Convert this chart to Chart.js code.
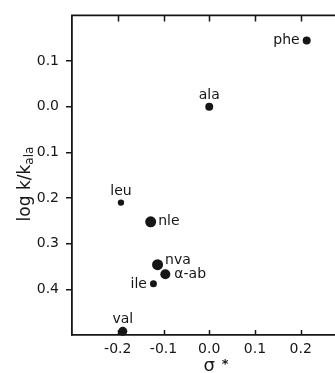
<!DOCTYPE html>
<html>
<head>
<meta charset="utf-8">
<script src="https://cdn.jsdelivr.net/npm/chart.js@4/dist/chart.umd.min.js"></script>
<style>
  html, body { margin: 0; padding: 0; background: #fff; overflow: hidden; }
  #wrap { width: 352px; height: 373px; }
</style>
</head>
<body>
<div id="wrap"><canvas id="c" width="352" height="373"></canvas></div>
<script>
// Amino acid residues: Taft sigma* vs log k/k_ala
const residues = ['phe', 'ala', 'leu', 'nle', 'nva', 'α-ab', 'ile', 'val'];
const sigmaStar = [0.213, 0.0, -0.193, -0.128, -0.113, -0.096, -0.122, -0.189];
const logRel = [0.145, 0.0, -0.210, -0.252, -0.346, -0.367, -0.388, -0.492];
const xTickValues = [-0.2, -0.1, 0.0, 0.1, 0.2, 0.3];
const yTickValues = [0.1, 0.0, -0.1, -0.2, -0.3, -0.4];

// marker radius per residue and where its name sits relative to the marker
const dotRadius = [4, 4, 3.2, 5.5, 5.5, 5, 3.5, 4.5];
const labelPlace = ['left', 'above', 'above', 'right', 'upright', 'rightFar', 'left', 'above'];

const INK = '#161616';
const FONT = '"DejaVu Sans", Verdana, sans-serif';

const points = sigmaStar.map((s, i) => ({ x: s, y: logRel[i] }));

const frame = {
  id: 'frame',
  afterDraw(chart) {
    const { ctx, chartArea: a, scales: { x, y } } = chart;
    ctx.save();
    ctx.strokeStyle = INK;
    ctx.lineWidth = 1.8;
    // top border
    ctx.beginPath();
    ctx.moveTo(a.left - 0.9, a.top);
    ctx.lineTo(a.right, a.top);
    ctx.stroke();
    // inward ticks on the top and bottom edges
    ctx.lineWidth = 1.5;
    xTickValues.forEach(v => {
      const px = Math.round(x.getPixelForValue(v)) + 0.5;
      ctx.beginPath();
      ctx.moveTo(px, a.top);
      ctx.lineTo(px, a.top + 6);
      ctx.moveTo(px, a.bottom);
      ctx.lineTo(px, a.bottom - 5);
      ctx.stroke();
    });

    // residue names next to the markers
    ctx.fillStyle = INK;
    ctx.font = '14px ' + FONT;
    residues.forEach((name, i) => {
      const px = x.getPixelForValue(sigmaStar[i]);
      const py = y.getPixelForValue(logRel[i]);
      const r = dotRadius[i];
      switch (labelPlace[i]) {
        case 'left':
          ctx.textAlign = 'right'; ctx.textBaseline = 'middle';
          ctx.fillText(name, px - r - 3, py);
          break;
        case 'above':
          ctx.textAlign = 'center'; ctx.textBaseline = 'alphabetic';
          ctx.fillText(name, px, py - r - 4);
          break;
        case 'right':
          ctx.textAlign = 'left'; ctx.textBaseline = 'middle';
          ctx.fillText(name, px + r + 2, py);
          break;
        case 'upright':
          ctx.textAlign = 'left'; ctx.textBaseline = 'middle';
          ctx.fillText(name, px + r + 2, py - 4);
          break;
        case 'rightFar':
          ctx.textAlign = 'left'; ctx.textBaseline = 'middle';
          ctx.fillText(name, px + r + 4, py);
          break;
      }
    });

    // y axis title: log k/k with subscript "ala"
    ctx.save();
    ctx.translate(30, 184);
    ctx.rotate(-Math.PI / 2);
    ctx.textBaseline = 'alphabetic';
    ctx.textAlign = 'left';
    const main = 'log k/k';
    ctx.font = '12px ' + FONT;
    const subW = ctx.measureText('ala').width;
    ctx.font = '17px ' + FONT;
    const mainW = ctx.measureText(main).width;
    const start = -(mainW + subW) / 2;
    ctx.fillText(main, start, 0);
    ctx.font = '12px ' + FONT;
    ctx.fillText('ala', start + mainW, 3);
    ctx.restore();

    // x axis title: sigma*
    const cx = x.getPixelForValue(0);
    ctx.textAlign = 'center';
    ctx.textBaseline = 'alphabetic';
    ctx.font = '18px ' + FONT;
    ctx.fillText('σ', cx, 371);
    ctx.font = 'bold 13px ' + FONT;
    ctx.fillText('*', cx + 16, 368);
    ctx.restore();
  }
};

new Chart(document.getElementById('c'), {
  type: 'scatter',
  data: {
    datasets: [{
      data: points,
      backgroundColor: INK,
      borderColor: INK,
      borderWidth: 0,
      pointRadius: dotRadius,
      pointHoverRadius: dotRadius,
      clip: false
    }]
  },
  options: {
    responsive: false,
    animation: false,
    events: [],
    layout: { padding: { top: 13, right: 4, left: 0, bottom: 0 } },
    plugins: { legend: { display: false }, tooltip: { enabled: false } },
    scales: {
      x: {
        type: 'linear',
        min: -0.3,
        max: 0.3,
        afterFit(s) { s.height = 38; },
        afterBuildTicks(s) { s.ticks = xTickValues.filter(v => v < 0.25).map(v => ({ value: v })); },
        border: { display: true, color: INK, width: 1.8 },
        grid: { display: true, drawOnChartArea: false, drawTicks: false, color: 'rgba(0,0,0,0)' },
        ticks: {
          color: INK,
          font: { family: FONT, size: 14 },
          padding: 6,
          maxRotation: 0,
          callback: v => v.toFixed(1)
        }
      },
      y: {
        type: 'linear',
        min: -0.5,
        max: 0.2,
        afterFit(s) { s.width = 72; },
        afterBuildTicks(s) { s.ticks = yTickValues.map(v => ({ value: v })); },
        border: { display: true, color: INK, width: 1.8 },
        grid: { display: true, drawOnChartArea: false, drawTicks: true, tickLength: 6, color: INK, lineWidth: 1.5 },
        ticks: {
          color: INK,
          font: { family: FONT, size: 14 },
          padding: 7,
          callback: v => Math.abs(v).toFixed(1)
        }
      }
    }
  },
  plugins: [frame]
});
</script>
</body>
</html>
